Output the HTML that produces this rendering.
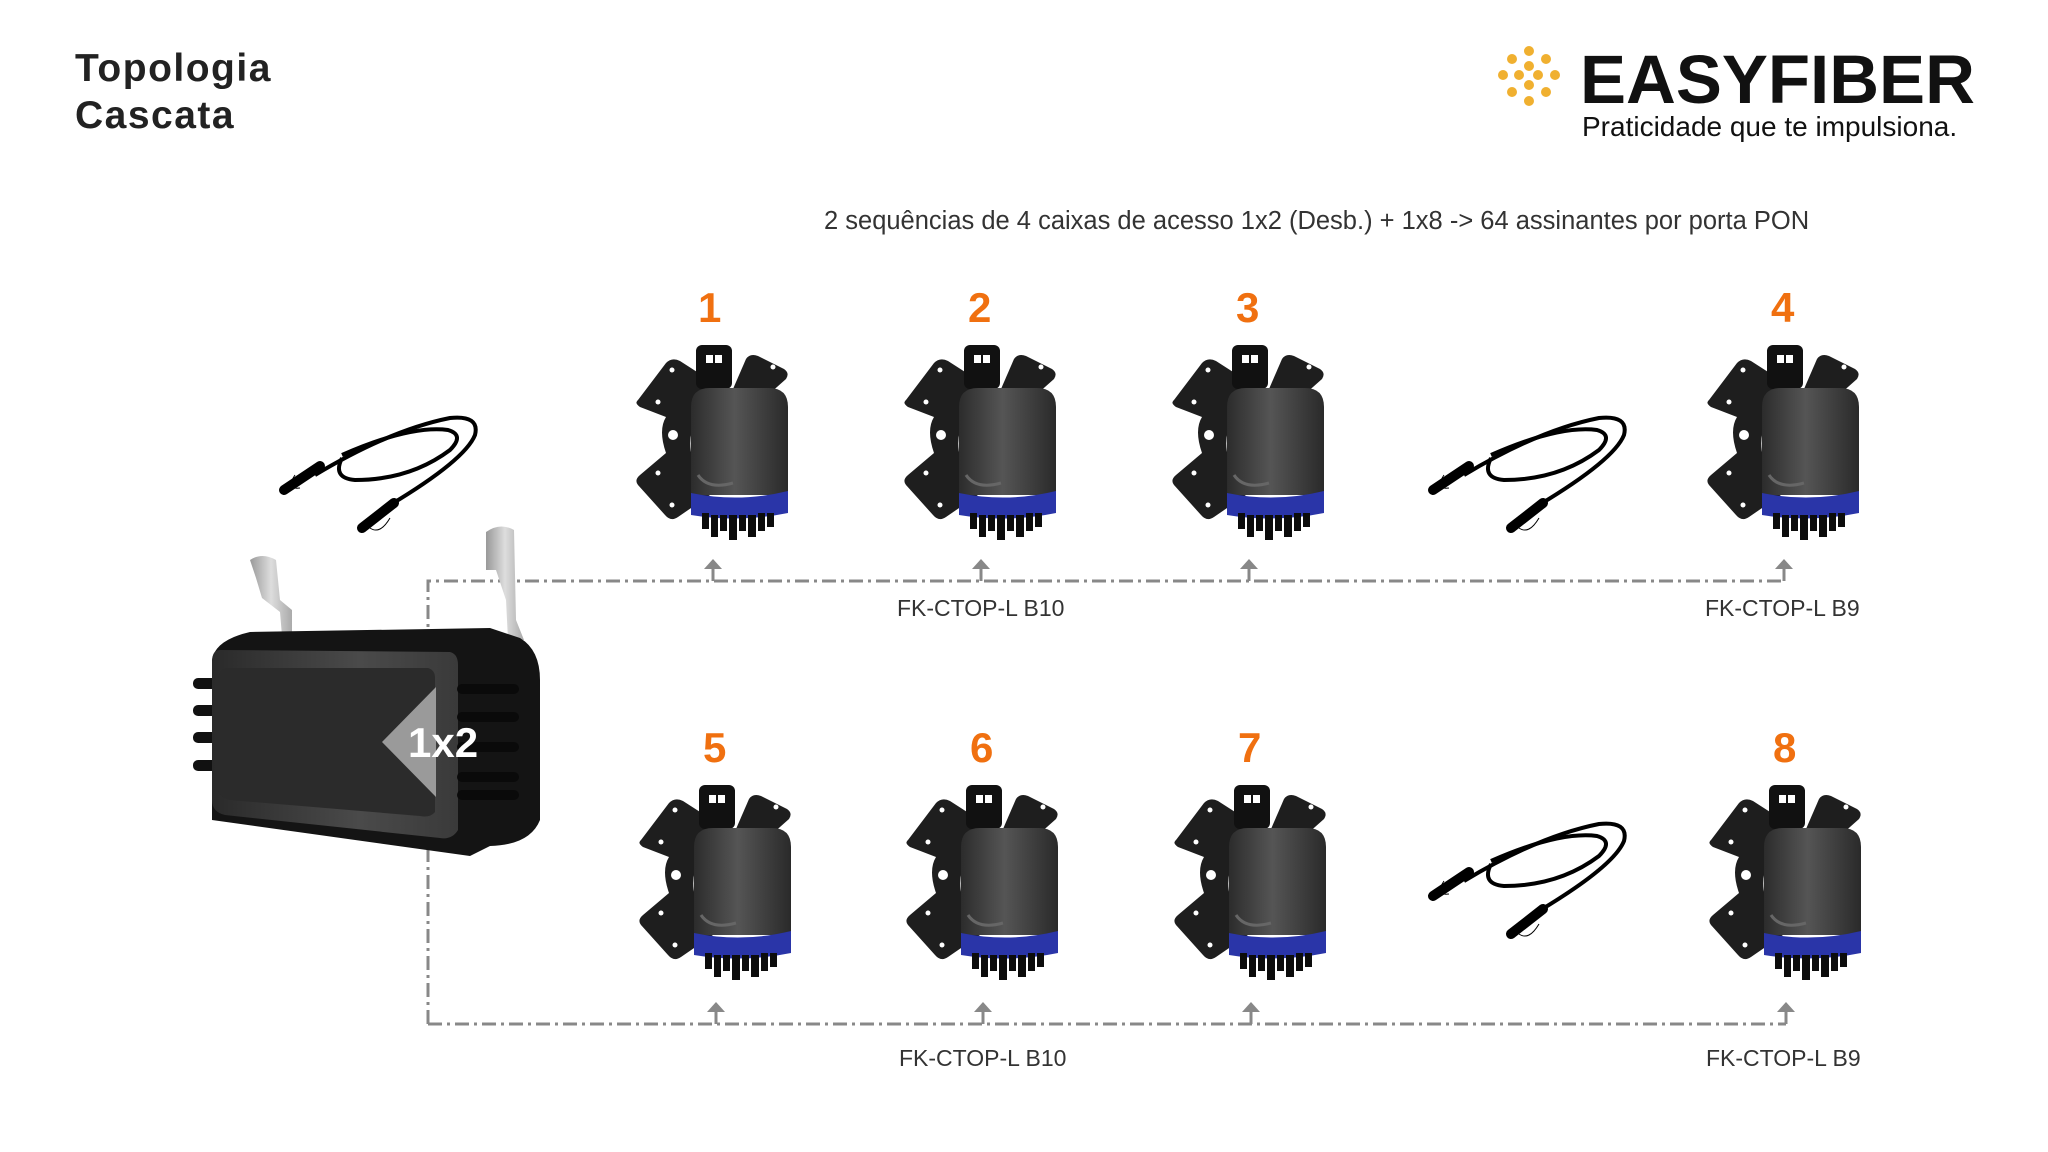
<!DOCTYPE html>
<html><head><meta charset="utf-8"><style>
html,body{margin:0;padding:0;background:#fff;}
body{width:2048px;height:1152px;position:relative;overflow:hidden;font-family:"Liberation Sans",sans-serif;}
.t{position:absolute;white-space:nowrap;}
</style></head><body>
<svg width="2048" height="1152" viewBox="0 0 2048 1152" style="position:absolute;left:0;top:0">
<defs>
<linearGradient id="cyl" x1="0" x2="1" y1="0" y2="0">
<stop offset="0" stop-color="#2c2c2c"/><stop offset="0.45" stop-color="#555"/><stop offset="1" stop-color="#2a2a2a"/></linearGradient>
<linearGradient id="face" x1="0" x2="1" y1="0" y2="0">
<stop offset="0" stop-color="#2a2a2a"/><stop offset="0.6" stop-color="#4a4a4a"/><stop offset="1" stop-color="#3a3a3a"/></linearGradient>
<linearGradient id="hook" x1="0" x2="1"><stop offset="0" stop-color="#999"/><stop offset="0.5" stop-color="#ddd"/><stop offset="1" stop-color="#aaa"/></linearGradient>
<g id="box">
 <path d="M0,55 L28,18 Q34,12 42,16 L70,34 L72,60 Q40,85 60,130 L72,150 L40,172 Q33,177 27,170 L0,140 Q-4,135 2,130 L28,108 Q20,85 28,72 L2,62 Q-4,58 0,55Z" fill="#1e1e1e"/>
 <rect x="58" y="0" width="36" height="44" rx="6" fill="#111"/>
 <rect x="68" y="10" width="7" height="8" fill="#fff"/><rect x="77" y="10" width="7" height="8" fill="#fff"/>
 <path d="M95,44 L108,14 Q112,8 120,11 L146,24 Q152,28 148,34 L130,50Z" fill="#1e1e1e"/>
 <circle cx="35" cy="90" r="5" fill="#fff"/><circle cx="20" cy="57" r="2.5" fill="#fff"/><circle cx="20" cy="128" r="2.5" fill="#fff"/><circle cx="34" cy="25" r="2.5" fill="#fff"/><circle cx="34" cy="160" r="2.5" fill="#fff"/><circle cx="135" cy="22" r="2.5" fill="#fff"/>
 <path d="M53,150 L53,62 Q53,43 72,43 L131,43 Q150,43 150,62 L150,150Z" fill="url(#cyl)"/>
 <path d="M60,130 Q70,145 95,138" stroke="#666" stroke-width="3" fill="none"/>
 <path d="M53,148 Q101,158 150,146 L150,168 Q101,178 53,170Z" fill="#2a35a8"/>
 <g fill="#0c0c0c"><rect x="64" y="168" width="7" height="16"/><rect x="73" y="170" width="7" height="22"/><rect x="82" y="170" width="7" height="16"/><rect x="91" y="170" width="8" height="25"/><rect x="101" y="170" width="7" height="16"/><rect x="110" y="170" width="8" height="22"/><rect x="120" y="168" width="7" height="18"/><rect x="129" y="168" width="7" height="14"/></g>
</g>
<g id="cable" fill="none" stroke="#000">
 <path d="M45,75 Q120,30 180,18 Q210,15 205,35 Q195,60 120,105" stroke-width="4"/>
 <path d="M72,55 Q140,25 178,30 Q195,35 180,50 Q140,80 85,80 Q62,78 72,58" stroke-width="4"/>
 <path d="M14,90 L50,66" stroke-width="10" stroke-linecap="round"/>
 <path d="M92,128 L124,103" stroke-width="10" stroke-linecap="round"/>
 <path d="M25,75 Q15,90 30,88 M100,128 Q110,135 120,118" stroke-width="1"/>
</g>
<g id="arr"><polygon points="-9,14 0,4 9,14" fill="#888"/><line x1="0" y1="14" x2="0" y2="26" stroke="#888" stroke-width="3"/></g>
</defs>
<g stroke="#888" stroke-width="3" fill="none" stroke-dasharray="14,5,3,5">
 <path d="M428,1024 L428,581 L1784,581"/>
 <path d="M428,1024 L1786,1024"/>
</g>
<use href="#arr" x="713" y="555"/><use href="#arr" x="981" y="555"/><use href="#arr" x="1249" y="555"/><use href="#arr" x="1784" y="555"/>
<use href="#arr" x="716" y="998"/><use href="#arr" x="983" y="998"/><use href="#arr" x="1251" y="998"/><use href="#arr" x="1786" y="998"/>
<use href="#box" x="638" y="345"/><use href="#box" x="906" y="345"/><use href="#box" x="1174" y="345"/><use href="#box" x="1709" y="345"/>
<use href="#box" x="641" y="785"/><use href="#box" x="908" y="785"/><use href="#box" x="1176" y="785"/><use href="#box" x="1711" y="785"/>
<use href="#cable" x="270" y="400"/><use href="#cable" x="1419" y="400"/><use href="#cable" x="1419" y="806"/>
<path d="M250,560 Q262,552 276,560 L280,600 L292,610 L292,636 L282,636 L280,612 L262,598 L256,578 Z" fill="url(#hook)"/>
<path d="M486,532 Q500,522 514,530 L516,620 L524,640 L508,640 L506,600 L496,570 L486,570Z" fill="url(#hook)"/>
<g fill="#111"><rect x="193" y="678" width="25" height="11" rx="5"/><rect x="193" y="705" width="25" height="11" rx="5"/><rect x="193" y="732" width="25" height="11" rx="5"/><rect x="193" y="760" width="25" height="11" rx="5"/></g>
<path d="M250,632 L490,628 L520,638 Q540,650 540,680 L540,820 Q530,845 490,846 L470,856 L212,820 L212,660 Q215,640 250,632Z" fill="#141414"/>
<path d="M220,650 L450,652 Q458,654 458,665 L458,830 Q452,840 440,838 L225,815 Q212,812 212,800 L212,662 Q212,650 220,650Z" fill="url(#face)"/>
<path d="M228,668 L428,668 Q435,670 435,678 L435,812 Q430,818 420,816 L230,800 Q218,797 218,788 L218,678 Q220,668 228,668Z" fill="#2b2b2b"/>
<polygon points="382,742 436,687 436,797" fill="#9a9a9a"/>
<g fill="#0a0a0a"><rect x="457" y="684" width="62" height="10" rx="5"/><rect x="457" y="712" width="62" height="10" rx="5"/><rect x="457" y="742" width="62" height="10" rx="5"/><rect x="457" y="772" width="62" height="10" rx="5"/><rect x="457" y="790" width="62" height="10" rx="5"/></g>
<text x="408" y="757" font-family="Liberation Sans" font-weight="bold" font-size="42" fill="#fff">1x2</text>
<g fill="#f0b030"><circle cx="1529" cy="51" r="5"/><circle cx="1512" cy="59" r="5"/><circle cx="1546" cy="59" r="5"/><circle cx="1529" cy="66" r="5"/><circle cx="1503" cy="75" r="5"/><circle cx="1519" cy="75" r="5"/><circle cx="1538" cy="75" r="5"/><circle cx="1555" cy="75" r="5"/><circle cx="1529" cy="85" r="5"/><circle cx="1512" cy="92" r="5"/><circle cx="1546" cy="92" r="5"/><circle cx="1529" cy="101" r="5"/></g>
</svg>
<div class="t" style="left:75px;top:45px;font-size:39px;font-weight:bold;line-height:47px;color:#222;letter-spacing:1.5px">Topologia<br>Cascata</div>
<div class="t" style="left:1580px;top:40px;font-size:69px;font-weight:bold;color:#111;letter-spacing:0px">EASYFIBER</div>
<div class="t" style="left:1582px;top:111px;font-size:28px;color:#111">Praticidade que te impulsiona.</div>
<div class="t" style="left:824px;top:207px;font-size:25.5px;color:#333">2 sequências de 4 caixas de acesso 1x2 (Desb.) + 1x8 -&gt; 64 assinantes por porta PON</div>
<div class="t" style="left:698px;top:284px;font-size:42px;font-weight:bold;color:#f07010">1</div>
<div class="t" style="left:968px;top:284px;font-size:42px;font-weight:bold;color:#f07010">2</div>
<div class="t" style="left:1236px;top:284px;font-size:42px;font-weight:bold;color:#f07010">3</div>
<div class="t" style="left:1771px;top:284px;font-size:42px;font-weight:bold;color:#f07010">4</div>
<div class="t" style="left:703px;top:724px;font-size:42px;font-weight:bold;color:#f07010">5</div>
<div class="t" style="left:970px;top:724px;font-size:42px;font-weight:bold;color:#f07010">6</div>
<div class="t" style="left:1238px;top:724px;font-size:42px;font-weight:bold;color:#f07010">7</div>
<div class="t" style="left:1773px;top:724px;font-size:42px;font-weight:bold;color:#f07010">8</div>
<div class="t" style="left:897px;top:595px;font-size:23px;color:#333">FK-CTOP-L B10</div>
<div class="t" style="left:1705px;top:595px;font-size:23px;color:#333">FK-CTOP-L B9</div>
<div class="t" style="left:899px;top:1045px;font-size:23px;color:#333">FK-CTOP-L B10</div>
<div class="t" style="left:1706px;top:1045px;font-size:23px;color:#333">FK-CTOP-L B9</div>
</body></html>
